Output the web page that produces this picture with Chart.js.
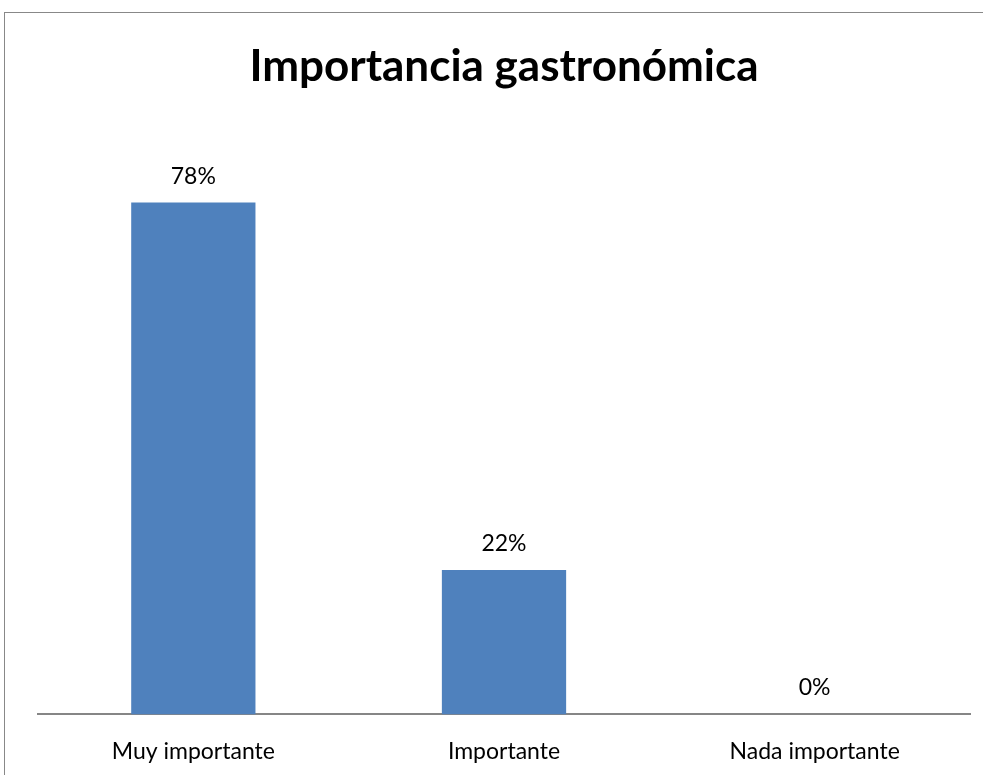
<!DOCTYPE html>
<html>
<head>
<meta charset="utf-8">
<script src="https://cdn.jsdelivr.net/npm/chart.js@4.4.1/dist/chart.umd.min.js"></script>
<style>
    html, body { margin: 0; padding: 0; overflow: hidden; background: #fff; }
    #frame {
        position: absolute; left: 4px; top: 12px;
        width: 1100px; height: 900px;
        border: 1px solid #888888;
    }
    #wrap { position: absolute; left: 0; top: 0; width: 983px; height: 780px; }
</style>
</head>
<body>
<div id="frame"></div>
<div id="wrap"><canvas id="myChart"></canvas></div>
<script>
// chart data
var categories = ['Muy importante', 'Importante', 'Nada importante'];
var values = [0.78, 0.22, 0];
var yMin = 0;
var yMax = 0.9;

// draws the % label above each bar
var valueLabels = {
    id: 'valueLabels',
    afterDatasetsDraw: function(chart) {
        var ctx = chart.ctx;
        var meta = chart.getDatasetMeta(0);
        ctx.save();
        ctx.font = '23px Lato, "Open Sans", sans-serif';
        ctx.fillStyle = '#000000';
        ctx.textAlign = 'center';
        ctx.textBaseline = 'alphabetic';
        meta.data.forEach(function(bar, i) {
            var txt = Math.round(values[i] * 100) + '%';
            ctx.fillText(txt, bar.x, bar.y - 19);
        });
        ctx.restore();
    }
};

function renderChart() {
    var ctx = document.getElementById('myChart').getContext('2d');
    var myChart = new Chart(ctx, {
        type: 'bar',
        data: {
            labels: categories,
            datasets: [{
                data: values,
                backgroundColor: '#4F81BD',
                barPercentage: 0.4,
                categoryPercentage: 1
            }]
        },
        options: {
            responsive: true,
            maintainAspectRatio: false,
            animation: false,
            layout: {
                padding: { left: 38, right: 13, top: 0, bottom: 0 }
            },
            plugins: {
                legend: { display: false },
                tooltip: { enabled: false },
                title: {
                    display: true,
                    text: 'Importancia gastronómica',
                    color: '#000000',
                    font: { family: 'Lato, "Open Sans", sans-serif', size: 44, weight: 'bold' },
                    padding: { top: 40, bottom: 31 }
                }
            },
            scales: {
                y: {
                    display: false,
                    min: yMin,
                    max: yMax
                },
                x: {
                    grid: { display: false },
                    border: { display: true, color: '#868686', width: 2 },
                    ticks: {
                        color: '#000000',
                        padding: 15,
                        font: { family: 'Lato, "Open Sans", sans-serif', size: 23 }
                    }
                }
            }
        },
        plugins: [valueLabels]
    });
}

renderChart();
</script>
</body>
</html>
